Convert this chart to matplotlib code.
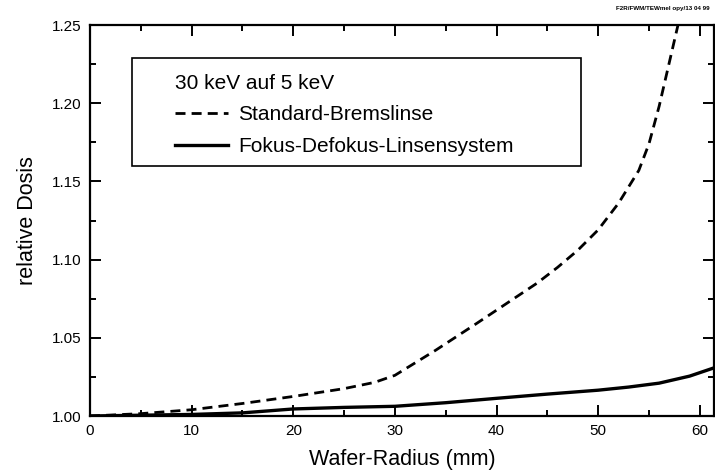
import matplotlib
matplotlib.use('Agg')
import matplotlib.pyplot as plt
from matplotlib.patches import Rectangle
from matplotlib.ticker import MultipleLocator, FormatStrFormatter

plt.rcParams['font.family'] = ['Liberation Sans', 'DejaVu Sans']

# Standard-Bremslinse (dashed)
x_std = [0, 5, 10, 15, 20, 25, 28, 30, 32, 34, 38, 41, 44, 46, 48, 50, 52, 54, 55,
         56, 57, 58]
y_std = [1.000, 1.0015, 1.004, 1.008, 1.0125, 1.0175, 1.0215, 1.026, 1.034, 1.042,
         1.059, 1.072, 1.085, 1.095, 1.106, 1.119, 1.136, 1.157, 1.174, 1.198,
         1.226, 1.254]

# Fokus-Defokus-Linsensystem (solid)
x_fok = [0, 5, 10, 15, 20, 25, 30, 35, 40, 45, 50, 53, 56, 59, 61.5]
y_fok = [1.000, 1.0005, 1.001, 1.002, 1.0045, 1.0055, 1.0062, 1.0085, 1.0113,
         1.014, 1.0165, 1.0185, 1.021, 1.0255, 1.031]

fig = plt.figure(figsize=(7.15, 4.73), dpi=100, facecolor='white')
ax = fig.add_axes([90 / 715, 57 / 473, 624 / 715, 391 / 473])

ax.plot(x_std, y_std, color='black', lw=2, dashes=(3.6, 2.2),
        label='Standard-Bremslinse')
ax.plot(x_fok, y_fok, color='black', lw=2.4, label='Fokus-Defokus-Linsensystem')

ax.set_xlim(0, 61.4)
ax.set_ylim(1.00, 1.25)
ax.xaxis.set_major_locator(MultipleLocator(10))
ax.xaxis.set_minor_locator(MultipleLocator(5))
ax.yaxis.set_major_locator(MultipleLocator(0.05))
ax.yaxis.set_minor_locator(MultipleLocator(0.025))
ax.yaxis.set_major_formatter(FormatStrFormatter('%.2f'))

for s in ax.spines.values():
    s.set_linewidth(1.6)
ax.tick_params(which='both', direction='in', top=True, right=True,
               labelsize=11, width=1.4)
ax.tick_params(which='major', length=8, pad=6)
ax.tick_params(which='minor', length=4.5)

ax.set_xlabel('Wafer-Radius (mm)', fontsize=15.5, labelpad=8)
ax.set_ylabel('relative Dosis', fontsize=15.5, labelpad=10)

# legend box
ax.add_patch(Rectangle((0.0673, 0.639), 0.7197, 0.2766, transform=ax.transAxes,
                       fill=False, edgecolor='black', lw=1.2, zorder=4))
leg = ax.legend(title='30 keV auf 5 keV', alignment='left', frameon=False,
                loc='upper left', bbox_to_anchor=(0.136, 0.875),
                borderaxespad=0, borderpad=0,
                fontsize=15, title_fontsize=15,
                handlelength=2.55, handletextpad=0.48, labelspacing=0.6)

fig.text(0.993, 0.982, 'F2R/FWM/TEWmel opy/13 04 99', fontsize=4.5,
         fontweight='bold', ha='right', va='center')

fig.savefig('out.png', dpi=100)
